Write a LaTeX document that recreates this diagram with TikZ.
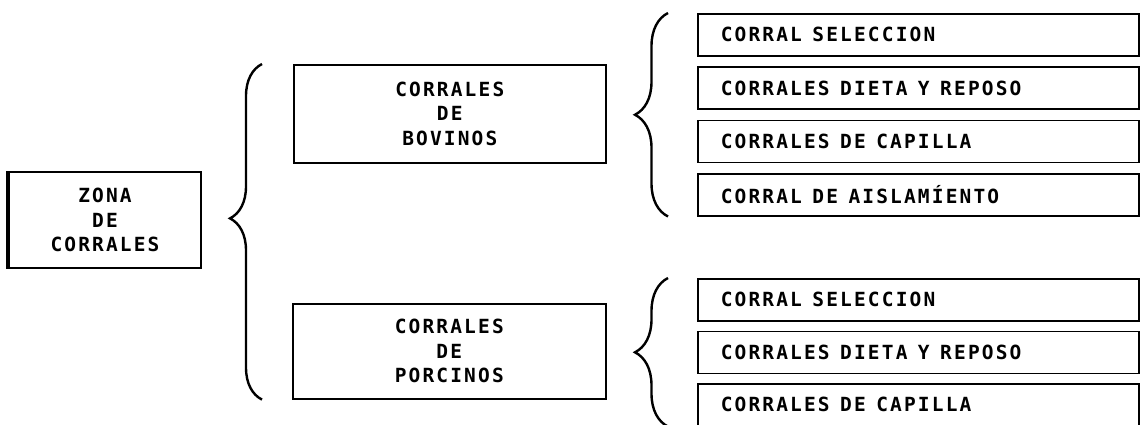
\documentclass[tikz,border=0pt]{standalone}
\usepackage{fontspec}
\newfontfamily\corralfont{DejaVu Sans Mono}[LetterSpace=11]
\newcommand\corraltext{\corralfont\bfseries\fontsize{19.5}{24.5}\selectfont}
\usetikzlibrary{decorations.pathreplacing}

\begin{document}
\begin{tikzpicture}[x=1pt,y=-1pt,
	box/.style={draw,line width=1.6pt,inner sep=0pt,align=center,font=\corraltext},
	item/.style={box,anchor=north west,minimum width=441pt,minimum height=42pt,
		text width=395pt,align=left,inner xsep=23pt,
		execute at begin node={\spaceskip 10.5pt\relax}},
	curly/.style={line width=2.4pt,decorate,decoration={brace,amplitude=33pt}}]

\useasboundingbox (0,0) rectangle (1141,424);

\node [box,anchor=north west,line width=2pt,minimum width=192pt,minimum height=96pt] at (8,171) (zona) {ZONA\\DE\\CORRALES};
\draw [line width=4.5pt] (zona.north west) -- (zona.south west);

\node [box,anchor=north west,minimum width=312pt,minimum height=98pt] at (293,64) (bov) {CORRALES\\DE\\BOVINOS};
\node [box,anchor=north west,minimum width=313pt,minimum height=95pt] at (292,303) (por) {CORRALES\\DE\\PORCINOS};

%%%%%%%%%%%%%%%%%%%%%%%%%%%%%%%%%%%%%%%%%%%%%%%%%%%%%%%%%%%%%%%%

\foreach \t [count=\i] in {CORRAL SELECCION,CORRALES DIETA Y REPOSO,CORRALES DE CAPILLA,CORRAL DE AISLAMÍENTO} {
	\node [item] at (697,{13+53.3*(\i-1)}) (b\i) {\t};
}

\foreach \t [count=\i] in {CORRAL SELECCION,CORRALES DIETA Y REPOSO,CORRALES DE CAPILLA} {
	\node [item] at (697,{278+52.5*(\i-1)}) (p\i) {\t};
}

%%%%%%%%%%%%%%%%%%%%%%%%%%%%%%%%%%%%%%%%%%%%%%%%%%%%%%%%%%%%%%%%

\draw [curly,decoration={amplitude=32pt,aspect=0.54}] ([xshift=-30pt]por.south west) -- ([xshift=-31pt]bov.north west);
\draw [curly] ([xshift=-29pt]b4.south west) -- ([xshift=-29pt]b1.north west);
\draw [curly] ([xshift=-29pt]p3.south west) -- ([xshift=-29pt]p1.north west);

\end{tikzpicture}
\end{document}
